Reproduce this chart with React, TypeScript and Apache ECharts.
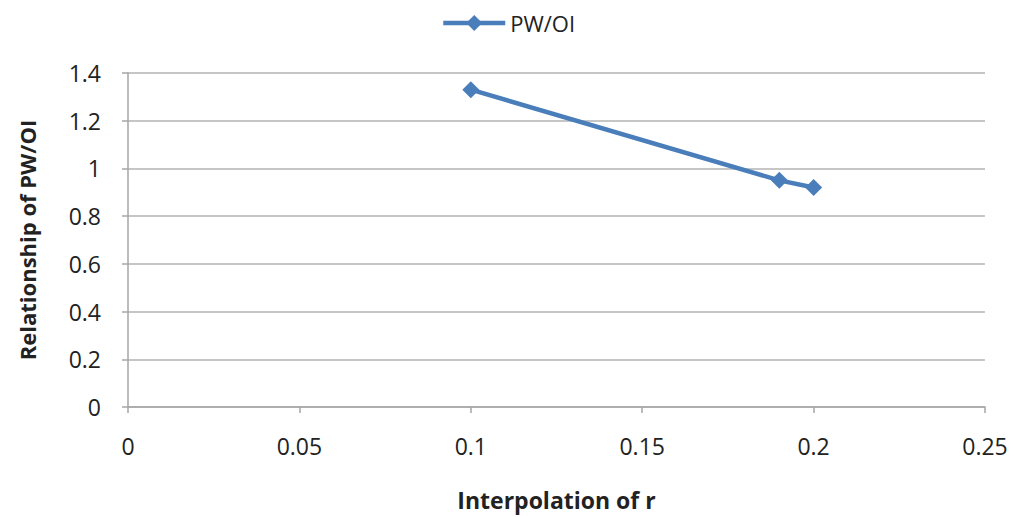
import React, { useEffect, useRef } from "react";
import * as echarts from "echarts";

const seriesName = "PW/OI";
const rValues = [0.1, 0.19, 0.2];
const pwOiValues = [1.33, 0.95, 0.92];
const xTitle = "Interpolation of r";
const yTitle = "Relationship of PW/OI";

export default function App() {
  const ref = useRef<HTMLDivElement>(null);
  useEffect(() => {
    if (!ref.current) return;
    const chart = echarts.init(ref.current, null, { renderer: "svg" });
    const font = "'Open Sans', 'Noto Sans', sans-serif";
    chart.setOption({
      animation: false,
      backgroundColor: "#ffffff",
      textStyle: { fontFamily: font },
      legend: {
        top: 7,
        left: 436,
        itemWidth: 62,
        itemHeight: 20,
        itemGap: 6,
        lineStyle: { width: 4.5, color: "#4a7ebb" },
        textStyle: { fontSize: 22, color: "#222", fontFamily: font },
        data: [{ name: seriesName }],
      },
      grid: { left: 128, right: 28, top: 73, bottom: 110 },
      xAxis: {
        type: "value",
        min: 0,
        max: 0.25,
        interval: 0.05,
        name: xTitle,
        nameLocation: "middle",
        nameGap: 81,
        nameTextStyle: { fontSize: 23, fontWeight: "bold", color: "#222", fontFamily: font },
        axisLine: { show: true, lineStyle: { color: "#a6a6a6", width: 1.5 } },
        axisTick: { show: true, length: 6, lineStyle: { color: "#a6a6a6", width: 1.5 } },
        axisLabel: { fontSize: 23, color: "#222", margin: 27, fontFamily: font },
        splitLine: { show: false },
      },
      yAxis: {
        type: "value",
        min: 0,
        max: 1.4,
        interval: 0.2,
        name: yTitle,
        nameLocation: "middle",
        nameGap: 90,
        nameRotate: 90,
        nameTextStyle: { fontSize: 22, fontWeight: "bold", color: "#222", fontFamily: font },
        axisLine: { show: true, lineStyle: { color: "#a6a6a6", width: 1.5 } },
        axisTick: { show: true, length: 6, lineStyle: { color: "#a6a6a6", width: 1.5 } },
        axisLabel: { fontSize: 23, color: "#222", margin: 27, fontFamily: font },
        splitLine: { show: true, lineStyle: { color: "#b3b3b3", width: 1.5 } },
      },
      series: [
        {
          name: seriesName,
          type: "line",
          data: rValues.map((r, i) => [r, pwOiValues[i]]),
          symbol: "diamond",
          symbolSize: 17,
          lineStyle: { color: "#4a7ebb", width: 4.5 },
          itemStyle: { color: "#4a7ebb" },
        },
      ],
    });
    return () => chart.dispose();
  }, []);
  return <div ref={ref} style={{ width: 1013, height: 517, position: "absolute", left: 0, top: 0 }} />;
}
